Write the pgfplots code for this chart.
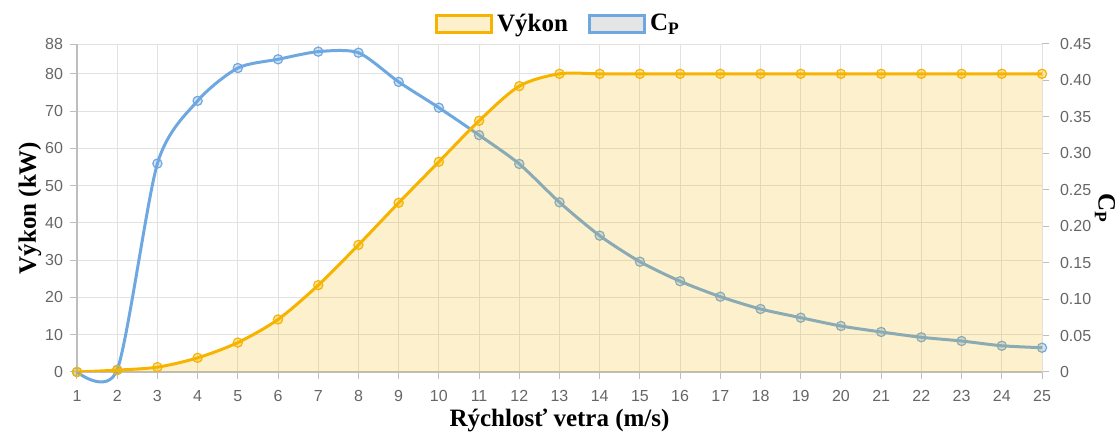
\documentclass[border=0pt]{standalone}
\usepackage{fontspec}
\setmainfont{Liberation Serif}
\setsansfont{Liberation Sans}
\usepackage{pgfplots}
\pgfplotsset{compat=1.18}
\usepackage{pgfplotstable}

\definecolor{pline}{RGB}{246,180,0}
\definecolor{cpline}{RGB}{111,168,225}
\definecolor{tickgray}{RGB}{102,102,102}
\definecolor{gridgray}{RGB}{226,226,226}
\definecolor{axgray}{RGB}{190,190,190}

% power curve (kW)
\pgfplotstableread{
v   p
1   0
2   0.5
3   1.3
4   3.8
5   7.9
6   14.1
7   23.3
8   34.1
9   45.4
10  56.4
11  67.4
12  76.7
13  80.0
14  80.0
15  80.0
16  80.0
17  80.0
18  80.0
19  80.0
20  80.0
21  80.0
22  80.0
23  80.0
24  80.0
25  80.0
}\power

% power coefficient
\pgfplotstableread{
v   cp
1   0
2   0.003
3   0.286
4   0.372
5   0.417
6   0.429
7   0.4395
8   0.438
9   0.398
10  0.3626
11  0.325
12  0.2854
13  0.2328
14  0.187
15  0.1513
16  0.1245
17  0.1033
18  0.0864
19  0.0745
20  0.0631
21  0.0549
22  0.0476
23  0.0425
24  0.036
25  0.0333
}\cpdata

\pgfplotsset{
  base/.style={
    scale only axis, width=482.5pt, height=164pt,
    xmin=1, xmax=25,
    /pgf/number format/assume math mode=true,
    tick label style={font=\sffamily\fontsize{8}{9}\selectfont, text=tickgray},
    tick align=outside, major tick length=3.5pt,
  },
}

\begin{document}
\begin{tikzpicture}
% axis with grid, left ticks and labels
\begin{axis}[base,
  ymin=0, ymax=88,
  xtick={1,...,25},
  ytick={0,10,20,30,40,50,60,70,80,88},
  axis x line*=bottom, axis y line*=left,
  axis line style={axgray, line width=0.6pt},
  tick style={axgray, line width=0.5pt},
  grid=major, major grid style={gridgray, line width=0.5pt},
  xticklabel style={yshift=-2pt},
  xlabel={Rýchlosť vetra (m/s)},
  ylabel={Výkon (kW)},
  every axis x label/.style={at={(axis description cs:0.5,0)}, anchor=center,
    yshift=-24pt, font=\bfseries\fontsize{12.5}{14}\selectfont},
  every axis y label/.style={at={(axis description cs:0,0.5)}, anchor=center,
    xshift=-23.5pt, rotate=90, font=\bfseries\fontsize{12.5}{14}\selectfont},
]
  \coordinate (bl) at (rel axis cs:0,0);
  \coordinate (tr) at (rel axis cs:1,1);
\end{axis}

% Cp on the right axis, drawn under the power fill
\begin{axis}[base,
  ymin=0, ymax=0.45,
  clip=false,
  axis x line=none, axis y line*=right,
  axis line style={gridgray, line width=0.5pt},
  tick style={axgray, line width=0.5pt},
  ytick={0,0.05,0.10,0.15,0.20,0.25,0.30,0.35,0.40,0.45},
  yticklabels={0,0.05,0.10,0.15,0.20,0.25,0.30,0.35,0.40,0.45},
  yticklabel style={xshift=2pt},
]
  \addplot[cpline, line width=1.5pt, smooth, tension=0.45,
    mark=*, mark size=2.3pt,
    mark options={fill=cpline, fill opacity=0.3, draw=cpline, line width=0.6pt}]
    table[x=v, y=cp] {\cpdata};
  \node[rotate=-90, font=\bfseries\fontsize{12.5}{14}\selectfont]
    at ([xshift=31.5pt]rel axis cs:1,0.5) {C\textsubscript{P}};
\end{axis}

% power with fill, on top
\begin{axis}[base,
  ymin=0, ymax=88,
  hide axis,
  legend columns=2,
  legend style={at={(rel axis cs:0.5,1)}, anchor=center, yshift=10pt,
    draw=none, fill=none,
    font=\bfseries\fontsize{12.5}{14}\selectfont,
    /tikz/every even column/.append style={column sep=8pt}},
  legend image code/.code={\draw[#1] (0pt,-4.3pt) rectangle (27.5pt,4.3pt);},
]
  \addlegendimage{draw=pline, line width=1.5pt, fill=pline!20}
  \addlegendentry{Výkon}
  \addlegendimage{draw=cpline, line width=1.5pt, fill=gray!20}
  \addlegendentry{C\textsubscript{P}}
  \addplot[draw=none, fill=pline, fill opacity=0.2, smooth, tension=0.5, forget plot]
    table[x=v, y=p] {\power} \closedcycle;
  \addplot[pline, line width=1.5pt, smooth, tension=0.5,
    mark=*, mark size=2.3pt,
    mark options={fill=pline, fill opacity=0.35, draw=pline, line width=0.6pt}, forget plot]
    table[x=v, y=p] {\power};
\end{axis}

\pgfresetboundingbox
\path ([shift={(-38.5pt,-32.5pt)}]bl) rectangle ([shift={(39pt,22pt)}]tr);
\end{tikzpicture}
\end{document}
